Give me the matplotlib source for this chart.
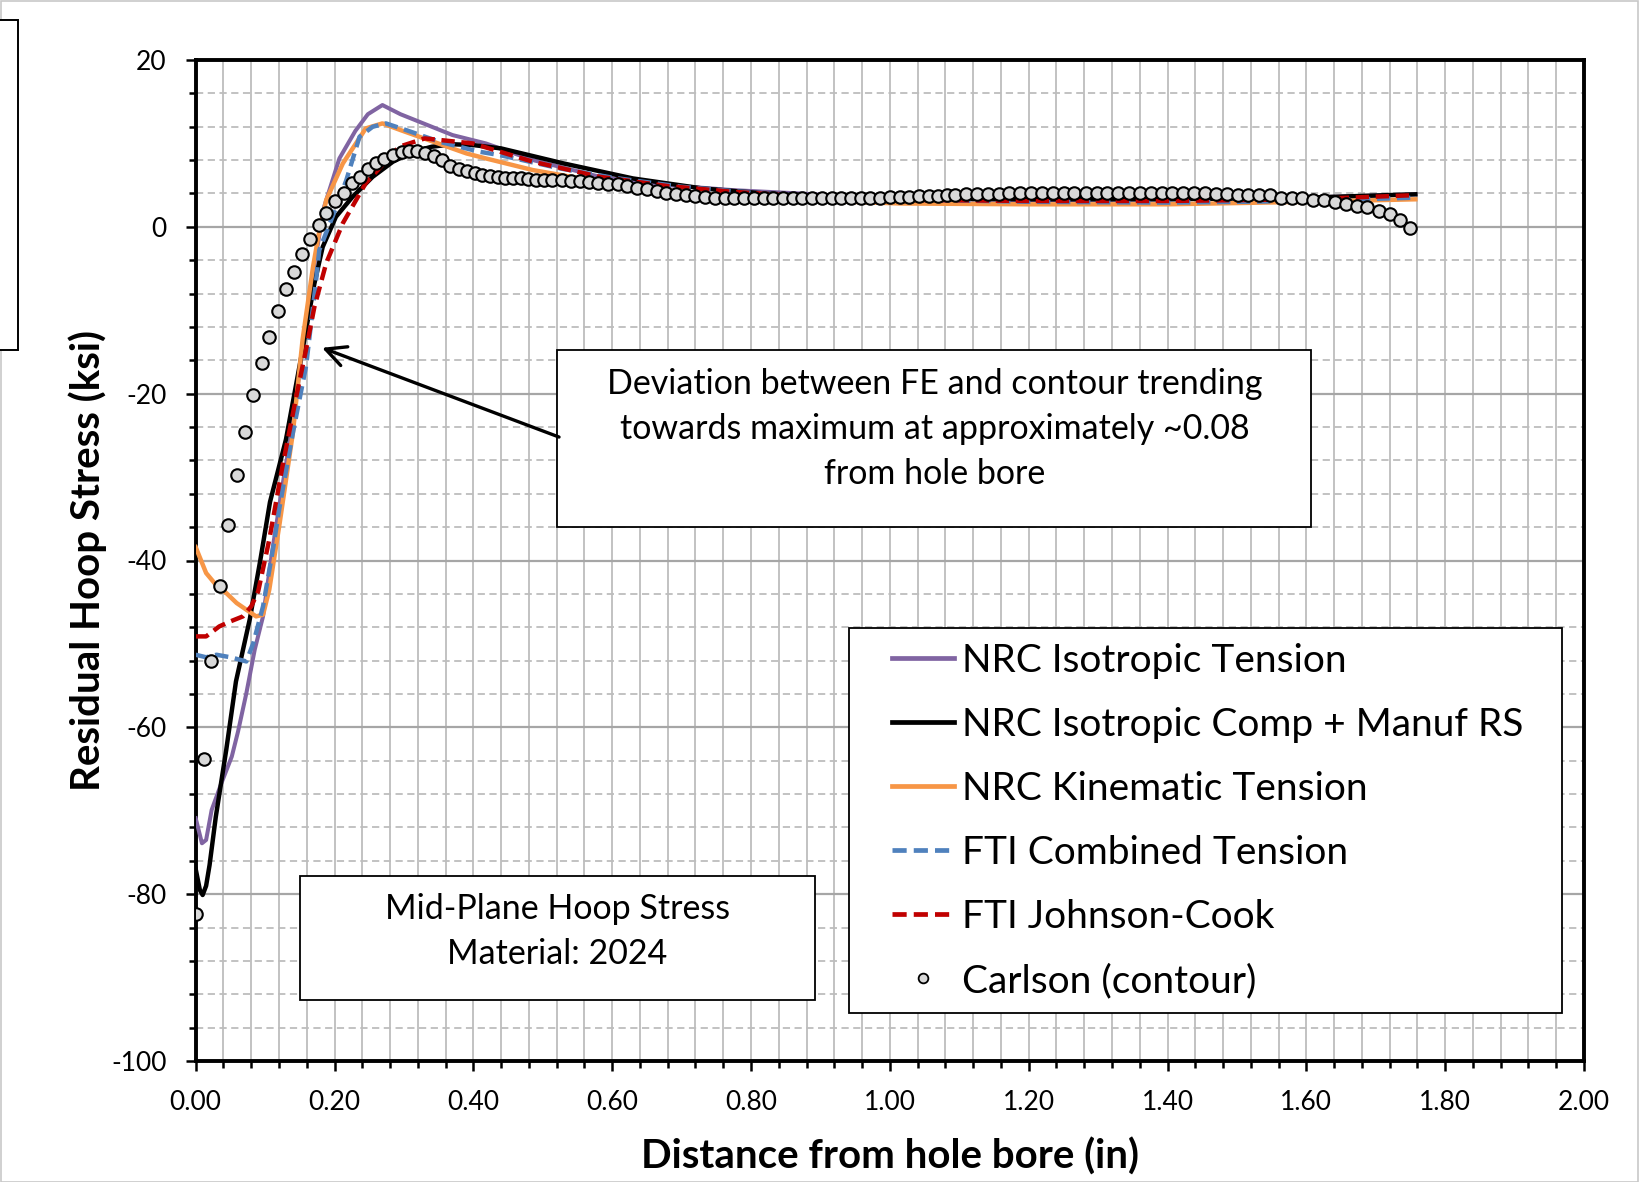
import matplotlib
matplotlib.use("Agg")
import matplotlib.pyplot as plt
from matplotlib.ticker import MultipleLocator, FormatStrFormatter
from matplotlib.lines import Line2D
from matplotlib.patches import Rectangle

plt.rcParams['font.family'] = ['Lato', 'DejaVu Sans']
plt.rcParams['axes.unicode_minus'] = False

# ---------------- data ----------------
iso_x = [0, 0.009, 0.015, 0.023, 0.037, 0.052, 0.061, 0.073, 0.085, 0.097, 0.110, 0.125,
         0.140, 0.155, 0.170, 0.185, 0.207, 0.230, 0.248, 0.269, 0.295, 0.322, 0.370, 0.418,
         0.486, 0.582, 0.679, 0.774, 0.870, 1.0, 1.2, 1.4, 1.6, 1.757]
iso_y = [-70.9, -73.9, -73.5, -69.9, -66.7, -63.5, -60.5, -55.9, -50.7, -46.7, -39.0, -31.0,
         -23.5, -14.0, -5.0, 2.4, 8.2, 11.5, 13.5, 14.6, 13.5, 12.6, 11.0, 10.0,
         8.0, 6.0, 5.0, 4.4, 4.0, 3.4, 3.2, 3.3, 3.5, 3.9]

comp_x = [0, 0.006, 0.010, 0.015, 0.020, 0.029, 0.044, 0.058, 0.078, 0.093, 0.107, 0.130,
          0.154, 0.171, 0.183, 0.202, 0.226, 0.255, 0.284, 0.313, 0.340, 0.370, 0.400, 0.440,
          0.530, 0.630, 0.730, 0.820, 0.920, 1.0, 1.2, 1.4, 1.6, 1.757]
comp_y = [-77.0, -79.5, -80.1, -79.0, -76.5, -70.7, -62.7, -54.5, -47.0, -40.0, -33.0, -25.5,
          -14.7, -6.8, -2.4, 1.2, 3.6, 6.0, 7.8, 9.0, 9.6, 9.9, 9.8, 9.4,
          7.6, 5.8, 4.6, 4.0, 3.6, 3.4, 3.3, 3.3, 3.5, 3.9]

kin_x = [0, 0.015, 0.030, 0.044, 0.059, 0.073, 0.087, 0.097, 0.106, 0.121, 0.140, 0.154,
         0.169, 0.177, 0.188, 0.212, 0.245, 0.269, 0.295, 0.322, 0.390, 0.418, 0.486, 0.582,
         0.679, 0.774, 0.870, 1.015, 1.2, 1.4, 1.6, 1.757]
kin_y = [-38.4, -41.5, -43.0, -43.9, -45.1, -45.9, -46.7, -46.5, -43.5, -35.5, -24.7, -13.5,
         -4.8, -1.0, 3.2, 7.6, 11.8, 12.4, 11.6, 10.8, 8.8, 8.2, 6.8, 5.4,
         4.4, 3.6, 3.2, 2.8, 2.7, 2.7, 3.0, 3.3]

fti_c_x = [0, 0.015, 0.030, 0.050, 0.073, 0.083, 0.097, 0.112, 0.121, 0.140, 0.159, 0.173,
           0.178, 0.197, 0.217, 0.236, 0.255, 0.274, 0.303, 0.351, 0.409, 0.438, 0.525, 0.600,
           0.700, 0.800, 0.900, 1.0, 1.2, 1.4, 1.6, 1.757]
fti_c_y = [-51.3, -51.6, -51.3, -51.6, -52.1, -49.9, -45.5, -38.3, -33.5, -24.7, -16.7, -6.75,
           -2.8, 1.2, 5.6, 10.8, 12.0, 12.4, 11.6, 10.2, 9.0, 8.6, 7.0, 5.9,
           4.8, 4.1, 3.6, 3.3, 3.0, 2.9, 3.1, 3.5]

fti_jc_x = [0, 0.015, 0.034, 0.050, 0.068, 0.080, 0.090, 0.106, 0.125, 0.145, 0.159, 0.171,
            0.188, 0.212, 0.245, 0.293, 0.330, 0.399, 0.486, 0.582, 0.679, 0.774, 0.871, 1.015,
            1.2, 1.4, 1.6, 1.757]
fti_jc_y = [-49.1, -49.1, -47.9, -47.3, -46.7, -45.5, -43.7, -37.5, -28.7, -20.3, -14.7, -9.6,
            -4.35, 0.44, 5.24, 9.6, 10.6, 10.0, 7.8, 6.0, 4.9, 4.2, 3.7, 3.24,
            3.1, 3.1, 3.3, 3.8]

carl_x = [0.000, 0.012, 0.022, 0.035, 0.047, 0.059, 0.071, 0.083, 0.095, 0.106, 0.118, 0.130,
          0.141, 0.153, 0.165, 0.177, 0.188, 0.201, 0.214, 0.225, 0.237, 0.248, 0.260, 0.271,
          0.284, 0.297, 0.308, 0.319, 0.330, 0.343, 0.355, 0.366, 0.380, 0.391, 0.403, 0.413,
          0.424, 0.435, 0.446, 0.457, 0.468, 0.479, 0.490, 0.502, 0.514, 0.527, 0.540, 0.553,
          0.566, 0.580, 0.594, 0.608, 0.622, 0.636, 0.650, 0.664, 0.678, 0.692, 0.706, 0.720,
          0.734, 0.748, 0.762, 0.776, 0.790, 0.804, 0.818, 0.832, 0.846, 0.860, 0.874, 0.888,
          0.902, 0.916, 0.930, 0.944, 0.958, 0.972, 0.986, 1.000, 1.014, 1.028, 1.042, 1.056,
          1.070, 1.082, 1.094, 1.110, 1.125, 1.141, 1.157, 1.172, 1.188, 1.204, 1.219, 1.235,
          1.251, 1.266, 1.282, 1.298, 1.313, 1.329, 1.345, 1.360, 1.376, 1.392, 1.407, 1.423,
          1.438, 1.454, 1.470, 1.485, 1.501, 1.516, 1.532, 1.548, 1.564, 1.579, 1.594, 1.610,
          1.625, 1.641, 1.657, 1.673, 1.687, 1.704, 1.720, 1.735, 1.750]
carl_y = [-82.4, -63.8, -52.0, -43.1, -35.8, -29.8, -24.6, -20.1, -16.3, -13.2, -10.1, -7.5,
          -5.4, -3.2, -1.4, 0.2, 1.7, 3.1, 4.1, 5.2, 6.0, 6.95, 7.6, 8.1,
          8.6, 9.0, 9.15, 9.1, 8.9, 8.5, 8.0, 7.3, 6.9, 6.7, 6.5, 6.2,
          6.1, 6.0, 5.9, 5.9, 5.8, 5.7, 5.65, 5.65, 5.65, 5.6, 5.5, 5.45,
          5.4, 5.2, 5.15, 5.1, 4.9, 4.7, 4.5, 4.3, 4.1, 3.9, 3.85, 3.7,
          3.6, 3.5, 3.5, 3.45, 3.45, 3.45, 3.45, 3.45, 3.45, 3.45, 3.45, 3.45,
          3.45, 3.45, 3.45, 3.45, 3.45, 3.5, 3.5, 3.55, 3.6, 3.6, 3.65, 3.7,
          3.75, 3.8, 3.84, 3.9, 3.95, 3.95, 3.95, 4.0, 4.0, 4.0, 4.0, 4.0,
          4.0, 4.0, 4.0, 4.0, 4.0, 4.0, 4.0, 4.0, 4.0, 4.0, 4.0, 4.0,
          4.0, 4.0, 3.95, 3.9, 3.84, 3.84, 3.76, 3.76, 3.44, 3.44, 3.44, 3.24,
          3.24, 2.96, 2.72, 2.52, 2.32, 1.92, 1.52, 0.84, -0.16]

x_ticks = [0.0, 0.2, 0.4, 0.6, 0.8, 1.0, 1.2, 1.4, 1.6, 1.8, 2.0]
y_ticks = [-100, -80, -60, -40, -20, 0, 20]

series_labels = ['NRC Isotropic Tension', 'NRC Isotropic Comp + Manuf RS',
                 'NRC Kinematic Tension', 'FTI Combined Tension', 'FTI Johnson-Cook',
                 'Carlson (contour)']

# ---------------- figure ----------------
W, H = 1639, 1182
fig = plt.figure(figsize=(W / 100, H / 100), dpi=100)
ax = fig.add_axes([195.7 / W, 1 - 1061 / H, (1584 - 195.7) / W, (1061 - 60) / H])

ax.set_xlim(0, 2.0)
ax.set_ylim(-100, 20)
ax.set_xticks(x_ticks)
ax.set_yticks(y_ticks)
ax.xaxis.set_minor_locator(MultipleLocator(0.04))
ax.yaxis.set_minor_locator(MultipleLocator(4))
ax.xaxis.set_major_formatter(FormatStrFormatter('%.2f'))

ax.grid(which='both', axis='x', color='#bdbdbd', lw=1.3, ls='-', zorder=0)
ax.grid(which='major', axis='y', color='#a6a6a6', lw=1.6, ls='-', zorder=0)
ax.grid(which='minor', axis='y', color='#bdbdbd', lw=1.3, ls=(0, (4, 2.5)), zorder=0)
ax.set_axisbelow(True)

for s in ax.spines.values():
    s.set_linewidth(2.8)
    s.set_color('black')
ax.tick_params(which='major', direction='out', length=7, width=1.8, labelsize=19)
ax.tick_params(axis='x', which='major', pad=14)
ax.tick_params(axis='y', which='major', pad=14)
ax.tick_params(which='minor', direction='out', length=5, width=1.8)

lw = 3.2
ax.plot(iso_x, iso_y, color='#8064a2', lw=2.9, zorder=3)
ax.plot(comp_x, comp_y, color='black', lw=lw, zorder=3)
ax.plot(kin_x, kin_y, color='#f79646', lw=lw, zorder=3)
ax.plot(fti_c_x, fti_c_y, color='#4f81bd', lw=lw, ls=(0, (3, 1.5)), zorder=4)
ax.plot(fti_jc_x, fti_jc_y, color='#c00000', lw=lw, ls=(0, (3, 1.5)), zorder=5)
ax.plot(carl_x, carl_y, ls='none', marker='o', ms=9, mfc='#d9d9d9', mec='black',
        mew=1.5, zorder=6)

ax.set_xlabel('Distance from hole bore (in)', fontsize=29, fontweight='bold', labelpad=16)
ax.set_ylabel('Residual Hoop Stress (ksi)', fontsize=29, fontweight='bold', labelpad=3)

# legend (frame drawn separately)
ax.add_patch(Rectangle((0.4706, 0.048), 0.9842 - 0.4706, 0.4326 - 0.048, transform=ax.transAxes,
                       facecolor='white', edgecolor='black', lw=1.3, zorder=9))
handles = [
    Line2D([], [], color='#8064a2', lw=3.4),
    Line2D([], [], color='black', lw=3.4),
    Line2D([], [], color='#f79646', lw=3.4),
    Line2D([], [], color='#4f81bd', lw=3.4, ls=(0, (3, 1.5))),
    Line2D([], [], color='#c00000', lw=3.4, ls=(0, (3, 1.5))),
    Line2D([], [], ls='none', marker='o', ms=7, mfc='#d9d9d9', mec='black', mew=1.3),
]
leg = ax.legend(handles, series_labels, loc='upper left', bbox_to_anchor=(0.5013, 0.4176),
                fontsize=28, frameon=False, handlelength=1.6, handletextpad=0.22,
                labelspacing=0.72, borderpad=0, borderaxespad=0)
leg.set_zorder(10)

# annotation boxes
ax.add_patch(Rectangle((0.2602, 0.5335), 0.8034 - 0.2602, 0.7103 - 0.5335, transform=ax.transAxes,
                       facecolor='white', edgecolor='black', lw=1.3, zorder=8))
ax.text(0.5322, 0.6318, 'Deviation between FE and contour trending\n'
        'towards maximum at approximately ~0.08\nfrom hole bore',
        transform=ax.transAxes, ha='center', va='center', fontsize=24.5, linespacing=1.5, zorder=9)

ax.add_patch(Rectangle((0.0751, 0.0609), 0.4461 - 0.0751, 0.1848 - 0.0609, transform=ax.transAxes,
                       facecolor='white', edgecolor='black', lw=1.3, zorder=8))
ax.text(0.2603, 0.129, 'Mid-Plane Hoop Stress\nMaterial: 2024', transform=ax.transAxes,
        ha='center', va='center', fontsize=24.5, linespacing=1.5, zorder=9)

ax.annotate('', xy=(0.182, -14.5), xytext=(0.5234, -25.2),
            arrowprops=dict(arrowstyle='->', lw=2.4, color='black', mutation_scale=36,
                            shrinkA=0, shrinkB=0), zorder=9)

# page artifacts: outer border and partial box at left
fig.patches.append(Rectangle((0.5 / W, 0), 1 - 2 / W, 1 - 1 / H, transform=fig.transFigure,
                             fill=False, edgecolor='#c8c8c8', lw=1.2))
fig.patches.append(Rectangle((-5 / W, 1 - 350 / H), 23 / W, 330 / H, transform=fig.transFigure,
                             facecolor='white', edgecolor='black', lw=1.4))

fig.savefig('out.png', dpi=100)
